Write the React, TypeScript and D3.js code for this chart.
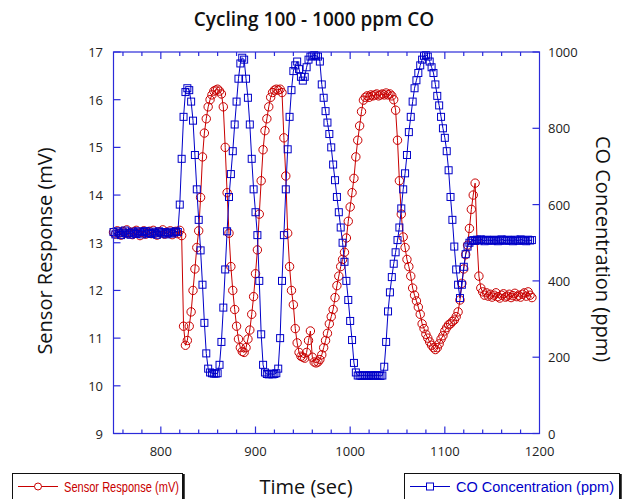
import * as d3 from 'd3';
import React, { useRef, useEffect } from 'react';

// time samples (sec), every 2 s
const times = d3.range(750, 1194, 2);

// sensor response (mV), left axis
const sensor = [
  13.22, 13.18, 13.25, 13.2, 13.16, 13.24, 13.2, 13.27, 13.19, 13.22,
  13.17, 13.23, 13.26, 13.2, 13.15, 13.22, 13.25, 13.18, 13.21, 13.24,
  13.19, 13.26, 13.2, 13.16, 13.23, 13.21, 13.27, 13.18, 13.22, 13.2,
  13.25, 13.17, 13.22, 13.24, 13.19, 13.26, 13.15, 11.25, 10.85, 10.95,
  11.25, 11.55, 12.0, 12.45, 12.9, 13.25, 13.95, 14.8, 15.3, 15.6,
  15.85, 16.0, 16.1, 16.18, 16.2, 16.22, 16.18, 16.12, 15.85, 15.0,
  14.05, 13.2, 12.5, 12.0, 11.6, 11.25, 10.98, 10.8, 10.72, 10.7,
  10.8, 10.98, 11.17, 11.5, 11.87, 12.35, 12.85, 13.6, 14.3, 14.95,
  15.35, 15.6, 15.85, 16.05, 16.15, 16.2, 16.22, 16.2, 16.22, 16.15,
  15.2, 14.4, 13.2, 12.5, 12.0, 11.7, 11.2, 10.9, 10.7, 10.62,
  10.6, 10.58, 10.7, 10.95, 11.15, 10.6, 10.5, 10.48, 10.5, 10.55,
  10.65, 10.8, 10.95, 11.1, 11.3, 11.45, 11.6, 11.85, 12.1, 12.3,
  12.5, 12.65, 12.8, 13.1, 13.45, 13.75, 14.05, 14.35, 14.8, 15.15,
  15.45, 15.75, 15.99, 16.05, 16.08, 16.05, 16.1, 16.08, 16.1, 16.12,
  16.08, 16.1, 16.12, 16.1, 16.14, 16.1, 16.12, 16.08, 16.0, 15.78,
  15.15, 14.3, 13.6, 13.12, 12.9, 12.65, 12.5, 12.3, 12.05, 11.9,
  11.78, 11.65, 11.5, 11.3, 11.2, 11.08, 11.0, 10.92, 10.85, 10.8,
  10.76, 10.8, 10.88, 10.98, 11.05, 11.15, 11.22, 11.28, 11.3, 11.35,
  11.38, 11.45, 11.55, 11.8, 12.15, 12.45, 12.75, 12.95, 13.3, 13.7,
  14.0, 14.25, 13.05, 12.3, 12.05, 11.97, 11.9, 11.95, 11.88, 11.92,
  11.86, 11.9, 11.95, 11.87, 11.84, 11.9, 11.93, 11.86, 11.88, 11.92,
  11.85, 11.89, 11.94, 11.87, 11.9, 11.86, 11.92, 11.95, 11.88, 11.97,
  11.9, 11.85
];

// CO concentration (ppm), right axis
const co = [
  528, 522, 530, 525, 520, 527, 532, 524, 526, 521,
  529, 525, 523, 530, 527, 522, 528, 531, 524, 526,
  523, 529, 526, 521, 530, 527, 524, 528, 522, 526,
  529, 524, 527, 530, 528, 600, 720, 830, 895, 905,
  900, 870, 820, 730, 640, 560, 480, 390, 290, 210,
  170, 160, 158, 157, 157, 158, 180, 240, 330, 430,
  530, 620, 680, 740, 810, 870, 930, 970, 985, 980,
  930, 880, 810, 720, 640, 580, 520, 400, 260, 180,
  160, 156, 155, 157, 155, 156, 158, 170, 250, 400,
  520, 640, 745, 830, 900, 950, 965, 975, 955, 935,
  925, 935, 960, 980, 988, 990, 992, 990, 988, 975,
  915, 880, 845, 815, 785, 750, 705, 664, 620, 580,
  540, 500, 450, 400, 350, 295, 245, 185, 160, 152,
  152, 151, 153, 152, 151, 152, 153, 151, 152, 153,
  152, 151, 152, 175, 240, 320, 370, 410, 445, 475,
  507, 540, 590, 640, 682, 730, 790, 830, 870, 905,
  926, 945, 965, 980, 990, 992, 988, 975, 960, 945,
  915, 885, 860, 830, 800, 775, 740, 690, 620, 560,
  490, 430, 390, 355, 390, 437, 470, 490, 500, 505,
  507, 505, 508, 506, 509, 507, 504, 508, 506, 507,
  505, 508, 507, 504, 506, 509, 507, 505, 508, 506,
  507, 504, 508, 506, 505, 509, 507, 506, 504, 508,
  506, 507
];

const leftTicks = [9, 10, 11, 12, 13, 14, 15, 16, 17];
const rightTicks = [0, 200, 400, 600, 800, 1000];
const xMajor = [800, 900, 1000, 1100, 1200];
const xMinor = d3.range(760, 1200, 20);

const W = 628, H = 499;
const FONT = '"Liberation Sans", Arial, sans-serif';
const FONT2 = '"Open Sans", "Liberation Sans", sans-serif';
const AXIS = '#2b2bd9';
const RED = '#c80000';
const BLUE = '#0000c8';

function App() {
  const ref = useRef();

  useEffect(() => {
    const svg = d3.select(ref.current);
    svg.selectAll('*').remove();

    const m = { left: 113.5, right: 539.5, top: 52, bottom: 433.5 };
    const x = d3.scaleLinear().domain([750, 1200]).range([m.left, m.right]);
    const yL = d3.scaleLinear().domain([9, 17]).range([m.bottom, m.top]);
    const yR = d3.scaleLinear().domain([0, 1000]).range([m.bottom, m.top]);

    svg.append('rect').attr('width', W).attr('height', H).attr('fill', 'white');

    // title
    svg.append('text')
      .attr('x', 314).attr('y', 26)
      .attr('text-anchor', 'middle')
      .attr('font-family', FONT2).attr('font-size', 19).attr('font-weight', 600)
      .attr('fill', '#111')
      .text('Cycling 100 - 1000 ppm CO');

    // series
    const redLine = d3.line().x((d, i) => x(times[i])).y(d => yL(d));
    const blueLine = d3.line().x((d, i) => x(times[i])).y(d => yR(d));

    const plot = svg.append('g');

    plot.append('path').attr('d', redLine(sensor))
      .attr('fill', 'none').attr('stroke', RED).attr('stroke-width', 1);
    plot.selectAll('circle.s')
      .data(sensor)
      .enter()
      .append('circle')
      .attr('cx', (d, i) => x(times[i]))
      .attr('cy', d => yL(d))
      .attr('r', 4.2)
      .attr('fill', 'none')
      .attr('stroke', RED)
      .attr('stroke-width', 1);

    plot.append('path').attr('d', blueLine(co))
      .attr('fill', 'none').attr('stroke', BLUE).attr('stroke-width', 1);
    plot.selectAll('rect.c')
      .data(co)
      .enter()
      .append('rect')
      .attr('x', (d, i) => x(times[i]) - 3.5)
      .attr('y', d => yR(d) - 3.5)
      .attr('width', 7)
      .attr('height', 7)
      .attr('fill', 'none')
      .attr('stroke', BLUE)
      .attr('stroke-width', 1);

    // frame
    const ax = svg.append('g').attr('stroke', AXIS).attr('stroke-width', 1.2);
    ax.append('rect')
      .attr('x', m.left).attr('y', m.top)
      .attr('width', m.right - m.left).attr('height', m.bottom - m.top)
      .attr('fill', 'none');

    // x ticks, bottom and top, pointing inward
    xMinor.forEach(t => {
      const major = xMajor.includes(t);
      const len = major ? 7 : 4;
      ax.append('line').attr('x1', x(t)).attr('x2', x(t))
        .attr('y1', m.bottom).attr('y2', m.bottom - len);
      ax.append('line').attr('x1', x(t)).attr('x2', x(t))
        .attr('y1', m.top).attr('y2', m.top + len);
    });

    leftTicks.forEach(v => {
      ax.append('line').attr('x1', m.left).attr('x2', m.left + 7)
        .attr('y1', yL(v)).attr('y2', yL(v));
    });
    rightTicks.forEach(v => {
      ax.append('line').attr('x1', m.right).attr('x2', m.right - 7)
        .attr('y1', yR(v)).attr('y2', yR(v));
    });

    const lbl = svg.append('g').attr('font-family', FONT2).attr('font-size', 13).attr('fill', '#222');

    xMajor.forEach(t => {
      lbl.append('text').attr('x', x(t)).attr('y', 456)
        .attr('text-anchor', 'middle').text(t);
    });
    leftTicks.forEach(v => {
      lbl.append('text').attr('x', 103).attr('y', yL(v) + 5)
        .attr('text-anchor', 'end').text(v);
    });
    rightTicks.forEach(v => {
      lbl.append('text').attr('x', 548).attr('y', yR(v) + 5)
        .attr('text-anchor', 'start').text(v);
    });

    // axis titles
    svg.append('text')
      .attr('transform', 'translate(52,251) rotate(-90)')
      .attr('text-anchor', 'middle')
      .attr('font-family', FONT2).attr('font-size', 20).attr('fill', '#111')
      .text('Sensor Response (mV)');
    svg.append('text')
      .attr('transform', 'translate(596,249) rotate(90)')
      .attr('text-anchor', 'middle')
      .attr('font-family', FONT2).attr('font-size', 20).attr('fill', '#111')
      .text('CO Concentration (ppm)');
    svg.append('text')
      .attr('x', 306).attr('y', 494)
      .attr('text-anchor', 'middle')
      .attr('font-family', FONT2).attr('font-size', 20).attr('fill', '#111')
      .text('Time (sec)');

    // legends
    const legend = (x0, w, color, label, marker, tw) => {
      const g = svg.append('g');
      g.append('rect').attr('x', x0 + 0.5).attr('y', 473.5)
        .attr('width', w).attr('height', 40)
        .attr('fill', 'white').attr('stroke', '#111').attr('stroke-width', 1);
      g.append('line').attr('x1', x0 + w + 1.5).attr('x2', x0 + w + 1.5)
        .attr('y1', 474).attr('y2', 499)
        .attr('stroke', '#111').attr('stroke-width', 2.5);
      g.append('line').attr('x1', x0 + 6).attr('x2', x0 + 46)
        .attr('y1', 486.5).attr('y2', 486.5)
        .attr('stroke', color).attr('stroke-width', 1);
      if (marker === 'circle') {
        g.append('circle').attr('cx', x0 + 26).attr('cy', 486.5).attr('r', 3.5)
          .attr('fill', 'white').attr('stroke', color);
      } else {
        g.append('rect').attr('x', x0 + 22.5).attr('y', 483)
          .attr('width', 7).attr('height', 7)
          .attr('fill', 'white').attr('stroke', color);
      }
      g.append('text').attr('x', x0 + 52).attr('y', 491.5)
        .attr('font-family', FONT).attr('font-size', 14).attr('fill', color)
        .attr('textLength', tw).attr('lengthAdjust', 'spacingAndGlyphs')
        .text(label);
    };
    legend(12, 170, RED, 'Sensor Response (mV)', 'circle', 115);
    legend(404, 215, BLUE, 'CO Concentration (ppm)', 'square', 158);
  }, []);

  return (
    <svg ref={ref} width={W} height={H}
      style={{ position: 'absolute', left: 0, top: 0, display: 'block' }} />
  );
}

export default App;
